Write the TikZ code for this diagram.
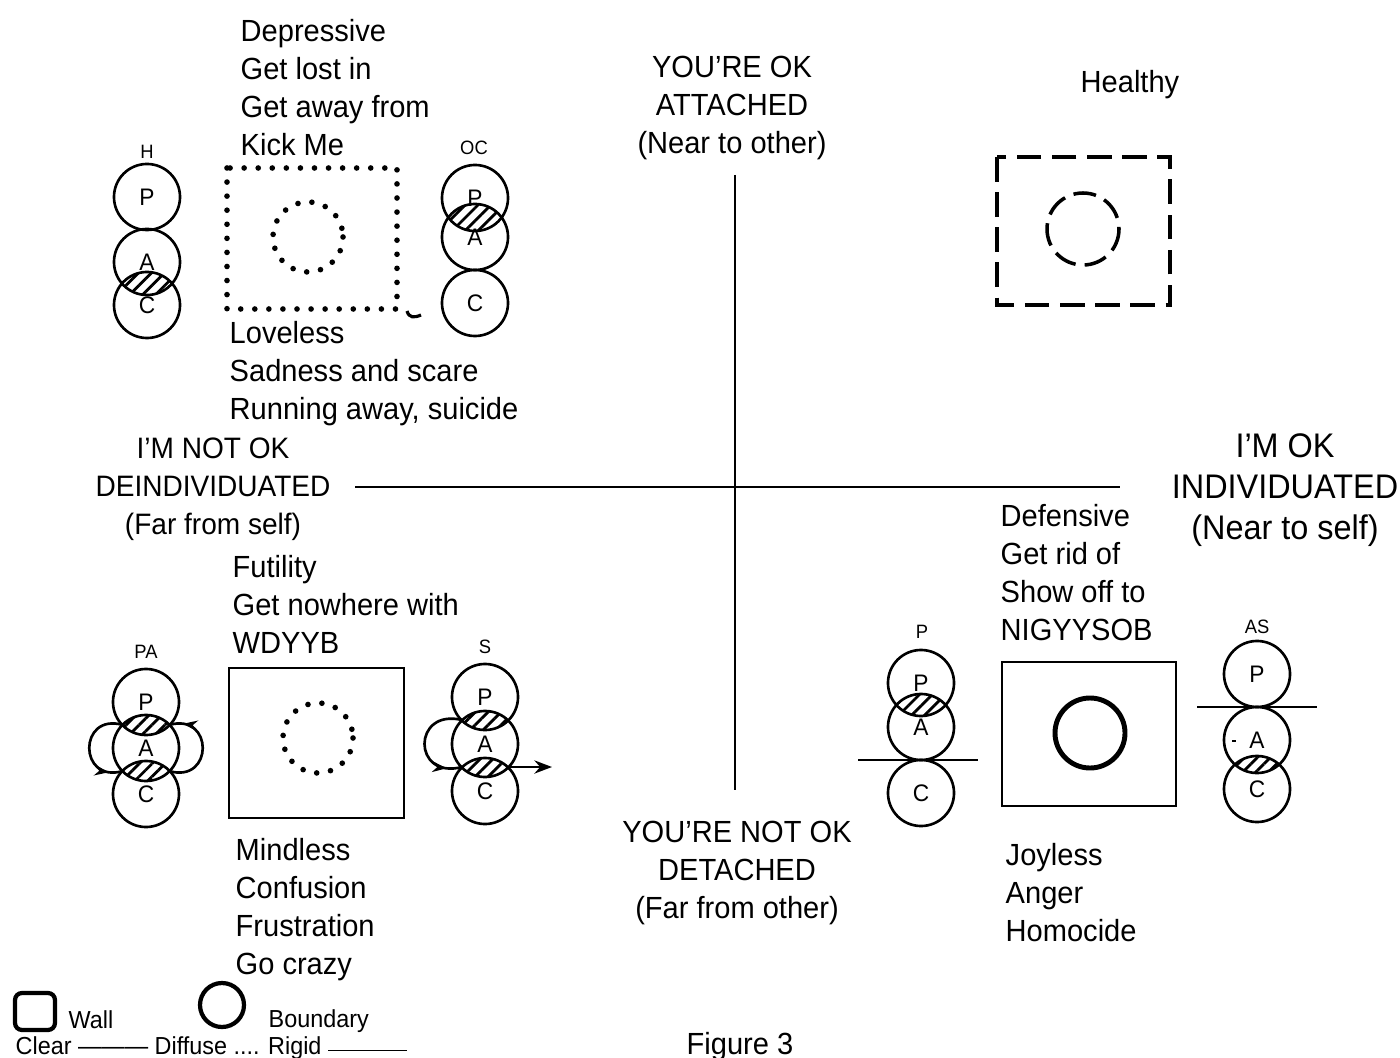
\documentclass[tikz,border=0pt]{standalone}
\usepackage{fontspec}
\setmainfont{Liberation Sans}[FakeStretch=0.95]
\usetikzlibrary{arrows.meta,patterns.meta,decorations.markings}

\newcommand{\egofont}{\fontsize{6.8}{7.5}\selectfont}
\newcommand{\tagfont}{\fontsize{5.5}{6.5}\selectfont}
\newcommand{\notefont}{\fontsize{8.7}{10.8}\selectfont}
\newcommand{\bigfont}{\fontsize{9.7}{11.7}\selectfont}
\newcommand{\legendfont}{\fontsize{7}{8}\selectfont}
% hatched overlap of two ego states
\newcommand{\hatchlens}[2]{%
  \begin{scope}
    \clip (#1) circle (33);
    \fill[hatch] (#2) circle (33);
  \end{scope}}

\begin{document}
\begin{tikzpicture}[x=0.01cm, y=-0.01cm,
    ego/.style={circle, draw, line width=0.75pt, minimum size=0.66cm, inner sep=0pt, font=\egofont},
    tag/.style={inner sep=0pt, font=\tagfont},
    notes/.style={anchor=north west, align=left, inner sep=0pt, font=\notefont},
    axislbl/.style={anchor=north, align=center, inner sep=0pt, font=\notefont},
    bigaxis/.style={anchor=north, align=center, inner sep=0pt, font=\bigfont},
    hatch/.style={pattern={Lines[angle=45,distance=2.6pt,line width=0.8pt]}},
    wall/.style={line width=0.8pt},
    dotline/.style={line width=1.6pt, line cap=round, dash pattern=on 0pt off 4pt},
    dashline/.style={line width=1pt, dash pattern=on 7pt off 3pt},
    flow/.style={line width=0.75pt, postaction={decorate},
      decoration={markings, mark=at position #1 with {\arrow{Stealth[length=4pt]}}}}
  ]
  \clip (0,0) rectangle (1400,1058);

  % axes
  \coordinate (ax-top) at (735,175);
  \coordinate (ax-bot) at (735,790);
  \coordinate (ax-left) at (355,487);
  \coordinate (ax-right) at (1120,487);
  \draw[line width=0.7pt] (ax-top) -- (ax-bot);
  \draw[line width=0.7pt] (ax-left) -- (ax-right);

  % axis labels
  \node[axislbl] (ok-you) at (732,55) {YOU'RE OK\\ATTACHED\\(Near to other)};
  \node[axislbl] (notok-you) at (737,820) {YOU'RE NOT OK\\DETACHED\\(Far from other)};
  \node[axislbl, font=\fontsize{8.4}{10.8}\selectfont] (notok-me) at (213,437) {I'M NOT OK\\DEINDIVIDUATED\\(Far from self)};
  \node[bigaxis] (ok-me) at (1285,433) {I'M OK\\INDIVIDUATED\\(Near to self)};

  % quadrant notes
  \node[notes] (dep) at (240,19) {Depressive\\Get lost in\\Get away from\\Kick Me};
  \node[notes] (love) at (229,321) {Loveless\\Sadness and scare\\Running away, suicide};
  \node[notes] (fut) at (232,555) {Futility\\Get nowhere with\\WDYYB};
  \node[notes] (mind) at (235,838) {Mindless\\Confusion\\Frustration\\Go crazy};
  \node[notes] (def) at (1000,504) {Defensive\\Get rid of\\Show off to\\NIGYYSOB};
  \node[notes] (joy) at (1005,843) {Joyless\\Anger\\Homocide};
  \node[axislbl] (healthy) at (1130,70) {Healthy};

  % walls and boundaries
  \draw[dotline] (227,168) rectangle (397,309);
  \draw[dotline] (308,237) circle (35);
  \draw[line width=0.9pt] (407,311) .. controls (409,318) and (414,318) .. (421,315);
  \draw[dashline] (997,157) rectangle (1170,305);
  \draw[line width=1pt, dash pattern=on 6.5pt off 2.6pt] (1083,229) circle (36);
  \draw[wall] (229,668) rectangle (404,818);
  \draw[dotline] (318,738) circle (35);
  \draw[wall] (1002,662) rectangle (1176,806);
  \draw[line width=1.4pt] (1090,733) circle (35);

  % H
  \node[tag] (h) at (147,152) {H};
  \node[ego] (h-p) at (147,197) {P};
  \node[ego] (h-a) at (147,262) {A};
  \node[ego] (h-c) at (147,305) {C};
  \hatchlens{h-a}{h-c}

  % OC
  \node[tag] (oc) at (474,148) {OC};
  \node[ego] (oc-p) at (475,198) {P};
  \node[ego] (oc-a) at (475,237) {A};
  \node[ego] (oc-c) at (475,303) {C};
  \hatchlens{oc-p}{oc-a}

  % PA
  \node[tag] (pa) at (146,652) {PA};
  \node[ego] (pa-p) at (146,702) {P};
  \node[ego] (pa-a) at (146,748) {A};
  \node[ego] (pa-c) at (146,794) {C};
  \hatchlens{pa-p}{pa-a}
  \hatchlens{pa-a}{pa-c}
  \coordinate (pa-ul) at (123,725);
  \coordinate (pa-ur) at (169,725);
  \coordinate (pa-ll) at (123,771);
  \coordinate (pa-lr) at (169,771);
  \draw[flow=0.85] (pa-ul) .. controls (78,712) and (78,784) .. (pa-ll);
  \draw[flow=0.85] (pa-lr) .. controls (214,784) and (214,712) .. (pa-ur);

  % S
  \node[tag] (s) at (485,647) {S};
  \node[ego] (s-p) at (485,697) {P};
  \node[ego] (s-a) at (485,744) {A};
  \node[ego] (s-c) at (485,791) {C};
  \hatchlens{s-p}{s-a}
  \hatchlens{s-a}{s-c}
  \coordinate (s-ul) at (462,720);
  \coordinate (s-ll) at (462,767);
  \coordinate (s-lr) at (508,767);
  \coordinate (s-out) at (552,767);
  \draw[flow=0.85] (s-ul) .. controls (412,708) and (412,780) .. (s-ll);
  \draw[line width=0.75pt, -{Stealth[length=5pt]}] (s-lr) -- (s-out);

  % P
  \node[tag] (pp) at (922,632) {P};
  \node[ego] (pp-p) at (921,683) {P};
  \node[ego] (pp-a) at (921,727) {A};
  \node[ego] (pp-c) at (921,793) {C};
  \hatchlens{pp-p}{pp-a}
  \coordinate (pp-l) at (858,760);
  \coordinate (pp-r) at (978,760);
  \draw[line width=0.75pt] (pp-l) -- (pp-r);

  % AS
  \node[tag] (as) at (1257,627) {AS};
  \node[ego] (as-p) at (1257,674) {P};
  \node[ego] (as-a) at (1257,740) {A};
  \node[ego] (as-c) at (1257,789) {C};
  \hatchlens{as-a}{as-c}
  \coordinate (as-l) at (1197,707);
  \coordinate (as-r) at (1317,707);
  \draw[line width=0.75pt] (as-l) -- (as-r);
  \draw[line width=0.6pt] (1232,741) -- (1236,741);

  % legend
  \draw[line width=1.2pt, rounded corners=2pt] (15,993) rectangle (55,1030);
  \node[anchor=base west, inner sep=0pt, font=\legendfont] (wall-lbl) at (68,1028) {Wall};
  \draw[line width=1.2pt] (222,1005) circle (22);
  \node[anchor=base west, inner sep=0pt, font=\legendfont] (bnd-lbl) at (268,1027) {Boundary};
  \node[anchor=base west, inner sep=0pt, font=\legendfont] (key) at (15,1054)
    {Clear ——— Diffuse .... Rigid \rule[0.2ex]{3.2em}{0.5pt}};
  \node[anchor=north, inner sep=0pt, font=\notefont] (fig) at (740,1032) {Figure 3};
\end{tikzpicture}
\end{document}
